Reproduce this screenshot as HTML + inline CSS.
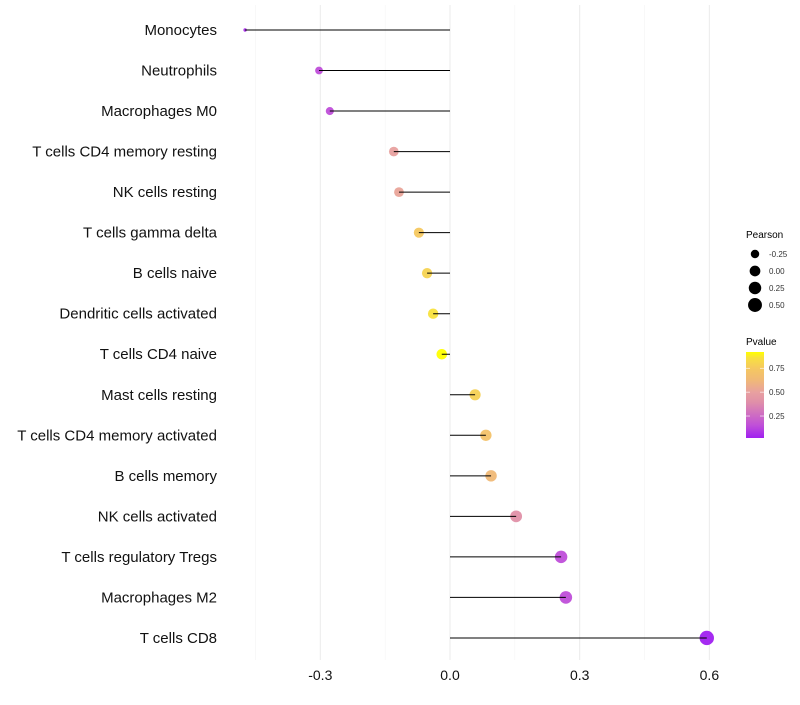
<!DOCTYPE html>
<html><head><meta charset="utf-8"><style>
body{margin:0;background:#fff;font-family:"Liberation Sans",sans-serif}
</style></head><body>
<svg id="chart" width="800" height="700" xmlns="http://www.w3.org/2000/svg">
<defs><linearGradient id="pg" x1="0" y1="1" x2="0" y2="0">
<stop offset="0" stop-color="#A020F0"/><stop offset="0.15" stop-color="#C050D8"/><stop offset="0.42" stop-color="#E090A8"/><stop offset="0.53" stop-color="#E8A0A0"/><stop offset="0.67" stop-color="#F0B878"/><stop offset="0.81" stop-color="#F5C860"/><stop offset="0.93" stop-color="#F8E040"/><stop offset="1" stop-color="#FFFF00"/>
</linearGradient></defs>
<g id="grid"></g><g id="points"></g><g id="stems"></g><g id="labels"></g>
<g font-size="10">
<text x="746" y="238" font-size="10">Pearson</text>
<g id="sizeleg"></g>
<text x="746" y="345" font-size="10">Pvalue</text>
<rect x="746" y="352" width="18" height="86" fill="url(#pg)"/>
<g id="colleg"></g>
</g>
</svg>
<script>
const categories=["Monocytes","Neutrophils","Macrophages M0","T cells CD4 memory resting","NK cells resting","T cells gamma delta","B cells naive","Dendritic cells activated","T cells CD4 naive","Mast cells resting","T cells CD4 memory activated","B cells memory","NK cells activated","T cells regulatory  Tregs ","Macrophages M2","T cells CD8"];
const pearson=[-0.474,-0.303,-0.278,-0.130,-0.118,-0.072,-0.053,-0.039,-0.019,0.058,0.083,0.095,0.153,0.257,0.268,0.594];
const pvalue=[0.06,0.15,0.15,0.5,0.52,0.75,0.8,0.86,0.92,0.79,0.7,0.63,0.4,0.15,0.15,0.02];
const xTicks=[-0.3,0.0,0.3,0.6];
const xMinor=[-0.45,-0.15,0.15,0.45];
const sizeBreaks=[-0.25,0,0.25,0.5];
const colBreaks=[0.25,0.5,0.75];
const NS="http://www.w3.org/2000/svg";
const x=v=>450+v*432.3;
const y=i=>30+i*40.53;
const pmin=Math.min(...pearson),pmax=Math.max(...pearson);
const r=v=>1.7+5.5*Math.sqrt(Math.max(0,(v-pmin)/(pmax-pmin)));
const cmin=0.02,cmax=0.92;
const cs=[[0,[160,32,240]],[0.15,[192,80,216]],[0.42,[224,144,168]],[0.53,[232,160,160]],[0.67,[240,184,120]],[0.81,[245,200,96]],[0.93,[248,224,64]],[1,[255,255,0]]];
function col(p){const t=Math.max(0,Math.min(1,(p-cmin)/(cmax-cmin)));
 for(let k=1;k<cs.length;k++){if(t<=cs[k][0]){const a=cs[k-1],b=cs[k];const u=(t-a[0])/(b[0]-a[0]);
 return `rgb(${a[1].map((c,i)=>Math.round(c+(b[1][i]-c)*u))})`;}}return 'rgb(255,255,0)';}
function mk(t,a,p){const e=document.createElementNS(NS,t);for(const k in a)e.setAttribute(k,a[k]);p.appendChild(e);return e;}
const grid=document.getElementById('grid'),points=document.getElementById('points'),stems=document.getElementById('stems'),labels=document.getElementById('labels');
xMinor.forEach(v=>{const l=mk('line',{x1:x(v),x2:x(v),y1:5,y2:660,stroke:'#f4f4f4','stroke-width':0.6},grid);

});
xTicks.forEach(v=>{const l=mk('line',{x1:x(v),x2:x(v),y1:5,y2:660,stroke:'#ebebeb','stroke-width':1},grid);


const t=mk('text',{x:x(v),y:680,'text-anchor':'middle','font-size':14,fill:'#111'},labels);t.textContent=v.toFixed(1);

});
categories.forEach((c,i)=>{
const d=mk('circle',{cx:x(pearson[i]),cy:y(i),r:r(pearson[i]),fill:col(pvalue[i]),'fill-opacity':0.95},points);


const s=mk('line',{x1:x(0),x2:x(pearson[i]),y1:y(i),y2:y(i),stroke:'#000','stroke-width':1},stems);


const t=mk('text',{x:217,y:y(i)+5,'text-anchor':'end','font-size':15,fill:'#111'},labels);t.textContent=c;

});
const sl=document.getElementById('sizeleg');
sizeBreaks.forEach((v,i)=>{const yy=254+i*17;const c=mk('circle',{cx:755,cy:yy,r:r(v),fill:'#000'},sl);


const t=mk('text',{x:769,y:yy+3,'font-size':8,fill:'#333'},sl);t.textContent=v.toFixed(2);

});
const cl=document.getElementById('colleg');
colBreaks.forEach(v=>{const yy=438-(v-cmin)*(86/(cmax-cmin));
mk('line',{x1:746,x2:750,y1:yy,y2:yy,stroke:'#fff','stroke-width':0.6},cl);
mk('line',{x1:760,x2:764,y1:yy,y2:yy,stroke:'#fff','stroke-width':0.6},cl);
const t=mk('text',{x:769,y:yy+3,'font-size':8,fill:'#333'},cl);t.textContent=v.toFixed(2);

});
</script>
</body></html>
